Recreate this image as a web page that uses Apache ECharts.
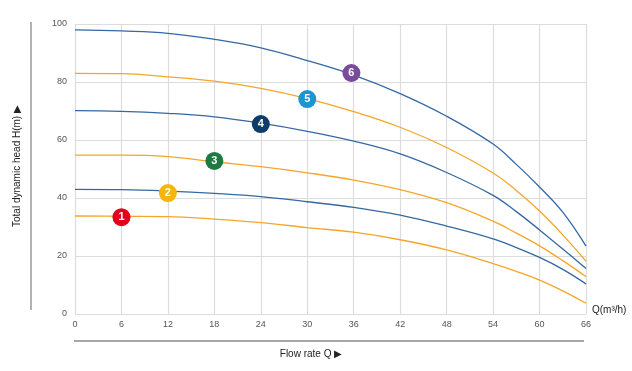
<!DOCTYPE html>
<html><head><meta charset="utf-8">
<script src="https://cdn.jsdelivr.net/npm/echarts@6/dist/echarts.min.js"></script>
<style>html,body{margin:0;padding:0;background:#fff}#c{width:632px;height:371px}</style>
</head><body><div id="c"></div>
<script>
const flow = [0, 6, 12, 18, 24, 30, 36, 42, 48, 54, 57, 60, 63, 66];
const curve1 = [33.8, 33.7, 33.6, 32.7, 31.5, 29.8, 28.2, 25.6, 22.1, 17.4, 14.7, 11.7, 8.0, 3.7];
const curve2 = [43.0, 42.9, 42.4, 41.6, 40.5, 38.7, 36.8, 34.1, 30.3, 25.9, 22.9, 19.5, 15.4, 10.4];
const curve3 = [54.8, 54.8, 54.3, 52.5, 50.8, 48.7, 46.2, 42.9, 38.4, 32.0, 27.9, 23.5, 18.4, 12.9];
const curve4 = [70.1, 69.9, 69.2, 68.0, 65.8, 63.0, 59.6, 55.2, 48.8, 40.9, 35.3, 29.0, 22.4, 15.7];
const curve5 = [83.0, 82.9, 81.8, 80.3, 77.8, 74.3, 69.8, 64.4, 57.4, 48.6, 42.6, 35.5, 27.3, 18.2];
const curve6 = [98.0, 97.6, 96.8, 94.7, 91.8, 87.4, 82.4, 76.0, 68.2, 58.6, 51.6, 43.8, 35.1, 23.4];
const markerLabels = ['1', '2', '3', '4', '5', '6'];
const markerX = [6, 12, 18, 24, 30, 35.7];
const markerY = [33.4, 41.7, 52.8, 65.5, 74.1, 83.1];
const xTicks = [0, 6, 12, 18, 24, 30, 36, 42, 48, 54, 60, 66];
const yTicks = [0, 20, 40, 60, 80, 100];

const BLUE = '#3568a2', ORANGE = '#f6a52b';
const markerColors = ['#e2001a', '#f5b50a', '#1c7b40', '#0f3b6c', '#1d95d3', '#7a4b9b'];
const curves = [[curve1, ORANGE], [curve2, BLUE], [curve3, ORANGE], [curve4, BLUE], [curve5, ORANGE], [curve6, BLUE]];

const series = curves.map(([vals, col]) => ({
  type: 'line', smooth: 0.4, symbol: 'none',
  lineStyle: { color: col, width: 1.3 },
  data: flow.map((f, i) => [f, vals[i]]), z: 2
}));
series.push({
  type: 'scatter', symbolSize: 18, z: 5,
  data: markerX.map((x, i) => ({
    value: [x, markerY[i]], itemStyle: { color: markerColors[i], opacity: 1 },
    label: { show: true, formatter: markerLabels[i] }
  })),
  itemStyle: { opacity: 1 },
  label: { position: 'inside', color: '#fff', fontWeight: 'bold', fontSize: 11, fontFamily: 'Liberation Sans' }
});

const chart = echarts.init(document.getElementById('c'));
chart.setOption({
  animation: false,
  grid: { left: 75, right: 46, top: 24, bottom: 57 },
  xAxis: {
    type: 'value', min: 0, max: 66, interval: 6,
    axisLine: { show: false }, axisTick: { show: false },
    axisLabel: { color: '#555', fontSize: 9, fontFamily: 'Liberation Sans', margin: 6,
      formatter: v => xTicks.includes(v) ? String(v) : '' },
    splitLine: { show: true, lineStyle: { color: '#dcdcdc', width: 1.2 } }
  },
  yAxis: {
    type: 'value', min: 0, max: 100, interval: 20,
    axisLine: { show: false }, axisTick: { show: false },
    axisLabel: { color: '#555', fontSize: 9, fontFamily: 'Liberation Sans', margin: 8,
      formatter: v => yTicks.includes(v) ? String(v) : '' },
    splitLine: { show: true, lineStyle: { color: '#dcdcdc', width: 1.2 } }
  },
  graphic: [
    { type: 'line', shape: { x1: 31, y1: 22, x2: 31, y2: 310 }, style: { stroke: '#8a8a8a', lineWidth: 1.3 } },
    { type: 'line', shape: { x1: 74, y1: 341, x2: 584, y2: 341 }, style: { stroke: '#8a8a8a', lineWidth: 1.3 } },
    { type: 'text', x: 17, y: 166, rotation: Math.PI / 2,
      style: { text: 'Total dynamic head H(m) \u25B6', fill: '#222', font: '10px "Liberation Sans"', align: 'center', verticalAlign: 'middle' } },
    { type: 'text', x: 311, y: 354,
      style: { text: 'Flow rate Q \u25B6', fill: '#222', font: '10px "Liberation Sans"', align: 'center', verticalAlign: 'middle' } },
    { type: 'text', x: 592, y: 310,
      style: { text: 'Q(m\u00B3/h)', fill: '#222', font: '10px "Liberation Sans"', align: 'left', verticalAlign: 'middle' } }
  ],
  series
});
</script></body></html>
